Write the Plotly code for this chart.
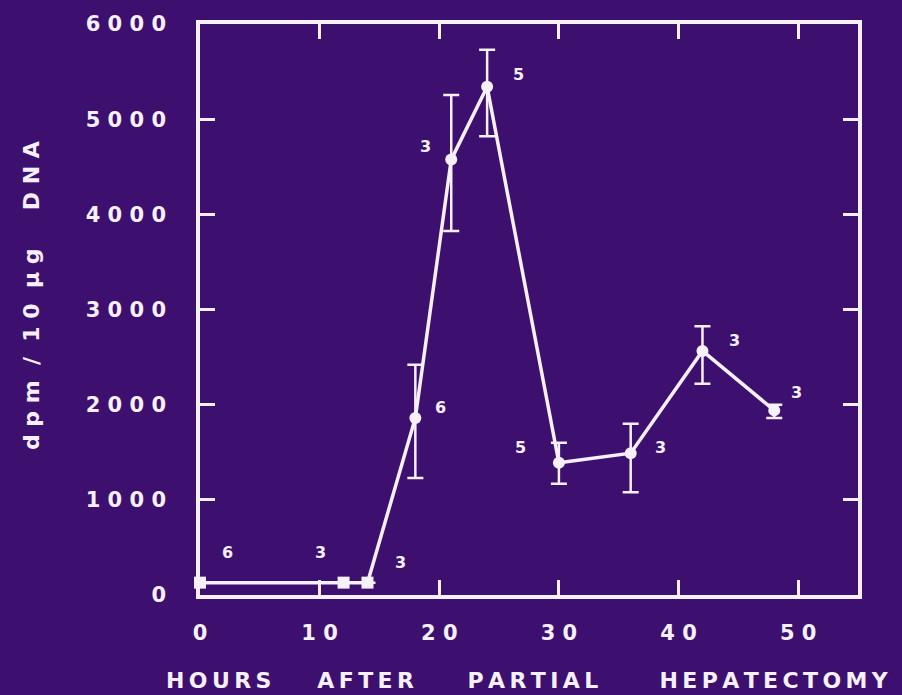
import plotly.graph_objects as go

# ---- data ----
hours = [0, 12, 14, 18, 21, 24, 30, 36, 42, 48]
dpm = [130, 130, 130, 1860, 4575, 5340, 1390, 1490, 2565, 1940]
err_plus = [0, 0, 0, 560, 680, 390, 210, 310, 260, 60]
err_minus = [0, 0, 0, 630, 750, 520, 220, 410, 345, 80]
n_labels = ["6", "3", "3", "6", "3", "5", "5", "3", "3", "3"]
marker_symbols = ["square", "square", "square", "circle", "circle",
                  "circle", "circle", "circle", "circle", "circle"]

x_tickvals = [0, 10, 20, 30, 40, 50]
x_ticktext = ["0", "1 0", "2 0", "3 0", "4 0", "5 0"]
y_tickvals = [0, 1000, 2000, 3000, 4000, 5000, 6000]
y_ticktext = ["0", "1 0 0 0", "2 0 0 0", "3 0 0 0", "4 0 0 0", "5 0 0 0", "6 0 0 0"]

x_title_words = ["HOURS", "AFTER", "PARTIAL", "HEPATECTOMY"]

# label offsets (pixels) for the n annotations
label_dx = [27, -23, 33, 25, -26, 31, -38, 30, 32, 22]
label_dy = [30, 30, 20, 10, 13, 12, 15, 6, 10, 18]

BG = "#3d0f6e"
FG = "#f6f0fa"
FONT = "DejaVu Sans"

fig = go.Figure()
fig.add_trace(go.Scatter(
    x=hours, y=dpm, mode="lines+markers",
    line=dict(color=FG, width=3.5),
    marker=dict(symbol=marker_symbols, size=12, color=FG,
                line=dict(color=FG, width=0)),
    error_y=dict(type="data", symmetric=False, array=err_plus,
                 arrayminus=err_minus, color=FG, thickness=2.5, width=8),
    cliponaxis=False, showlegend=False, hoverinfo="skip",
))

for h, v, t, dx, dy in zip(hours, dpm, n_labels, label_dx, label_dy):
    fig.add_annotation(x=h, y=v, text=t, showarrow=False, xshift=dx, yshift=dy,
                       font=dict(family=FONT, size=16, color=FG, weight="bold"))

# x axis title (letter-spaced words)
nb = "\u00a0"
thin = "\u2009"
spaced = [thin.join(w) for w in x_title_words]
gaps = [nb * 6, nb * 7, nb * 8]
title_x = spaced[0] + gaps[0] + spaced[1] + gaps[1] + spaced[2] + gaps[2] + spaced[3]
fig.add_annotation(xref="paper", yref="paper", x=0.497, y=-0.149, yanchor="middle",
                   xanchor="center", text=title_x, showarrow=False,
                   font=dict(family=FONT, size=22, color=FG, weight="bold"))
# y axis title
title_y = ("d p m" + nb * 2 + "/" + nb * 2 + "1 0" + nb * 2 + "µ g" + nb * 5 + "D N A")
fig.add_annotation(xref="paper", yref="paper", x=-0.257, y=0.525, xanchor="center",
                   yanchor="middle", text=title_y, textangle=-90, showarrow=False,
                   font=dict(family=FONT, size=22, color=FG, weight="bold"))

axis_common = dict(showgrid=False, zeroline=False, showline=True, linecolor=FG,
                   linewidth=3.5, mirror="ticks", ticks="inside", ticklen=15,
                   tickwidth=3, tickcolor=FG,
                   tickfont=dict(family=FONT, size=21, color=FG, weight="bold"))

fig.update_layout(
    width=902, height=695,
    paper_bgcolor=BG, plot_bgcolor=BG,
    margin=dict(l=200, r=44, t=22, b=100),
    xaxis=dict(range=[0, 55], tickvals=x_tickvals, ticktext=x_ticktext,
               ticklabelstandoff=16, **axis_common),
    yaxis=dict(range=[0, 6000], tickvals=y_tickvals, ticktext=y_ticktext,
               ticklabelstandoff=26, **axis_common),
)

fig.write_html("out.html", config={"displayModeBar": False},
               post_script="document.body.style.margin='0';"
                           "document.body.style.background='" + BG + "';")
